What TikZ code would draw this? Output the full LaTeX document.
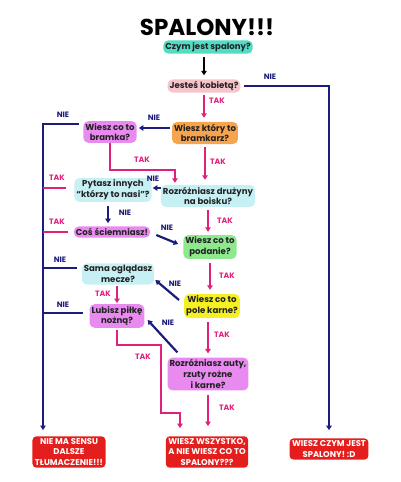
\documentclass[tikz,border=0pt]{standalone}
\usepackage{fontspec}
\setmainfont{Poppins}
\usetikzlibrary{arrows.meta,calc}
\definecolor{txt}{HTML}{222222}
\definecolor{navy}{HTML}{1C1C7C}
\definecolor{pinkln}{HTML}{E0207A}
\definecolor{tealb}{HTML}{52DCC4}
\definecolor{pinkl}{HTML}{F8C4CC}
\definecolor{orng}{HTML}{F6A44E}
\definecolor{orch}{HTML}{E88AF0}
\definecolor{cyanl}{HTML}{C6F0F4}
\definecolor{greenb}{HTML}{8EE88E}
\definecolor{yel}{HTML}{F4F024}
\definecolor{redb}{HTML}{E41E1C}
\begin{document}
\begin{tikzpicture}[x=1pt,y=-1pt,
 box/.style={rounded corners=5pt, inner sep=2pt, align=center, text=txt,
   font=\bfseries\fontsize{8.6}{10.8}\selectfont},
 endbox/.style={fill=redb, text=white, rounded corners=4pt, inner sep=2.5pt, align=center,
   font=\bfseries\fontsize{8.4}{10.2}\selectfont},
 nav/.style={draw=navy, line width=2.2pt},
 pk/.style={draw=pinkln, line width=2.2pt},
 arr/.style={-{Triangle[length=4.5pt,width=5.5pt]}},
 nie/.style={font=\bfseries\fontsize{7.8}{8}\selectfont, text=navy},
 tak/.style={font=\bfseries\fontsize{7.8}{8}\selectfont, text=pinkln}]
\useasboundingbox (0,0) rectangle (400,482);

% title and nodes
\node[font=\bfseries\fontsize{23}{23}\selectfont, text=black] (title) at (207,27) {SPALONY!!!};
\node[box, fill=tealb] (czym) at (208,47) {Czym jest spalony?};
\node[box, fill=pinkl] (kob) at (204,86) {Jesteś kobietą?};
\node[box, fill=orng] (bkarz) at (205,133) {Wiesz który to\\bramkarz?};
\node[box, fill=orch] (bramka) at (110,132) {Wiesz co to\\bramka?};
\node[box, fill=cyanl] (druz) at (208,196) {Rozróżniasz drużyny\\na boisku?};
\node[box, fill=cyanl] (pyt) at (113,190) {Pytasz innych\\“którzy to nasi”?};
\node[box, fill=orch] (cos) at (112,232) {Coś ściemniasz!};
\node[box, fill=greenb] (pod) at (210,247) {Wiesz co to\\podanie?};
\node[box, fill=cyanl] (sama) at (118,274) {Sama oglądasz\\mecze?};
\node[box, fill=yel] (pole) at (212,306) {Wiesz co to\\pole karne?};
\node[box, fill=orch] (lub) at (117,316) {Lubisz piłkę\\nożną?};
\node[box, fill=orch] (auty) at (208,374) {Rozróżniasz auty,\\rzuty rożne\\i karne?};

\node[endbox] (nms) at (69,452) {NIE MA SENSU\\DALSZE\\TŁUMACZENIE!!!};
\node[endbox] (wws) at (207,452) {WIESZ WSZYSTKO,\\A NIE WIESZ CO TO\\SPALONY???};
\node[endbox] (wcj) at (329,449) {WIESZ CZYM JEST\\SPALONY! :D};

% helper coordinates
\coordinate (lx) at (43,0);
\coordinate (q1) at (175,170);
\coordinate (p1) at (161,345);
\coordinate (p2) at (180,413);

% connectors
\draw[draw=black, line width=1.6pt, arr, shorten <=3pt, shorten >=4pt] (czym.south -| kob.north) -- (kob.north);

\draw[nav, arr, shorten <=3pt] (kob.east) -- (kob.east -| wcj.north) -- ([yshift=8pt]wcj.north);
\node[nie] (l1) at (270,77) {NIE};

\draw[pk, arr, shorten <=2pt, shorten >=4pt] (kob.south) -- (kob.south |- bkarz.north);
\node[tak] (l2) at (217,101) {TAK};

\draw[nav, arr, shorten <=2pt, shorten >=2pt] ([yshift=5pt]bkarz.west) -- ([yshift=5pt]bkarz.west -| bramka.east);
\node[nie] (l3) at (154,118) {NIE};

\draw[nav, arr, shorten <=4pt] ([yshift=8pt]bramka.west) -- ([yshift=8pt]bramka.west -| lx) -- ([yshift=6pt]lx |- nms.north);
\node[nie] (l4) at (63,115) {NIE};

\draw[pk, arr, shorten >=2pt] (bramka.south) |- (q1) -- (q1 |- druz.north);
\node[tak] (l5) at (142,160) {TAK};

\draw[pk, arr, shorten <=3pt, shorten >=5pt] (bkarz.south) -- (bkarz.south |- druz.north);
\node[tak] (l6) at (218,162) {TAK};

\draw[nav, arr, shorten >=1pt] ([yshift=8pt]druz.west) -- ([yshift=8pt]druz.west -| pyt.east);
\node[nie] (l7) at (153,179) {NIE};

\draw[pk, shorten <=8pt] ([yshift=2pt]pyt.west) -- ([yshift=2pt]pyt.west -| lx);
\node[tak] (l8) at (57,178) {TAK};

\draw[nav, arr, shorten <=4pt, shorten >=3pt] ([xshift=-5pt]pyt.south) -- ([xshift=-5pt]pyt.south |- cos.north);
\node[nie] (l9) at (125,213) {NIE};

\draw[pk, shorten <=6pt] (cos.west) -- (cos.west -| lx);
\node[tak] (l10) at (57,222) {TAK};

\draw[nav, arr] ($(cos.east)+(6,3)$) -- ($(pod.west)+(-5,-3)$);
\node[nie] (l11) at (167,228) {NIE};

\draw[pk, arr, shorten <=3pt, shorten >=3pt] (druz.south) -- (druz.south |- pod.north);
\node[tak] (l12) at (225,221) {TAK};

\draw[pk, arr, shorten <=4pt, shorten >=4pt] (pod.south) -- (pod.south |- pole.north);
\node[tak] (l13) at (227,276) {TAK};

\draw[nav, shorten <=5pt] ([yshift=6pt]sama.west) -- ([yshift=6pt]sama.west -| lx);
\node[nie] (l14) at (60,260) {NIE};

\draw[nav, arr] ($(pole.west)+(-5,-6)$) -- ($(sama.east)+(1,6)$);
\node[nie] (l15) at (175,284) {NIE};

\draw[pk, arr, shorten <=1pt, shorten >=1pt] (lub.north |- sama.south) -- (lub.north);
\node[tak] (l16) at (103,294) {TAK};

\draw[nav, shorten <=6pt] ([yshift=3pt]lub.west) -- ([yshift=3pt]lub.west -| lx);
\node[nie] (l17) at (63,305) {NIE};

\draw[nav, arr] ($(auty.north west)+(10,-5)$) -- ($(lub.east)+(3,4)$);
\node[nie] (l18) at (168,323) {NIE};

\draw[pk, arr, shorten <=4pt, shorten >=4pt] (pole.south -| auty.north) -- (auty.north);
\node[tak] (l19) at (222,335) {TAK};

\draw[pk, arr, shorten <=2pt, shorten >=8pt] (lub.south) |- (p1) -- (p1 |- p2) -- (p2) -- (p2 |- wws.north);
\node[tak] (l20) at (143,357) {TAK};

\draw[pk, arr, shorten <=4pt, shorten >=10pt] (auty.south) -- (auty.south |- wws.north);
\node[tak] (l21) at (227,408) {TAK};
\end{tikzpicture}
\end{document}
